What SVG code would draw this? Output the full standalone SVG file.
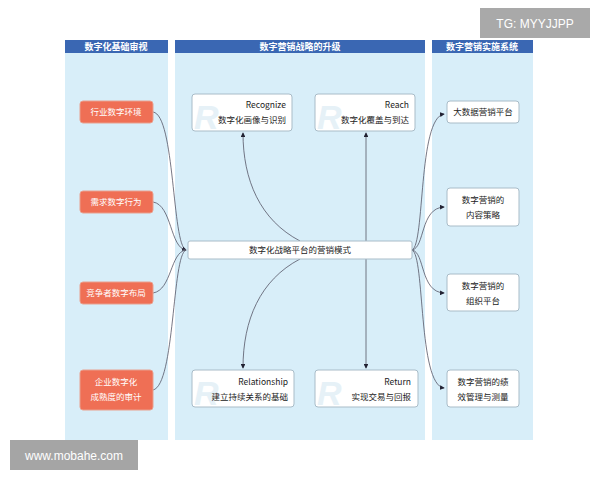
<svg xmlns="http://www.w3.org/2000/svg" width="600" height="480" viewBox="0 0 600 480">
<style>
.col{fill:#d8eef9}
.hdr{fill:#3a67b3}
.ht{font:bold 9px "Noto Sans CJK SC",sans-serif;fill:#fff;text-anchor:middle}
.or{fill:#ef6f55;stroke:#e9a08e;stroke-width:1}
.ot{font:8.5px "Noto Sans CJK SC",sans-serif;fill:#fff;text-anchor:middle}
.wb{fill:#fff;stroke:#a9bcc8;stroke-width:1}
.wt{font:8.5px "Noto Sans CJK SC",sans-serif;fill:#222;text-anchor:end}
.ct{font:8.5px "Noto Sans CJK SC",sans-serif;fill:#222;text-anchor:middle}
.R{font:bold italic 34px "Liberation Sans",sans-serif;fill:#e6f1f7}
.c{fill:none;stroke:#556;stroke-width:0.8}
</style>
<defs><marker id="a" viewBox="0 0 6 6" refX="5" refY="3" markerWidth="6" markerHeight="6" orient="auto"><path d="M0,0L6,3L0,6z" fill="#223"/></marker></defs>
<rect width="600" height="480" fill="#fff"/>
<rect class="col" x="65" y="40" width="103" height="400"/>
<rect class="col" x="175" y="40" width="250" height="400"/>
<rect class="col" x="432" y="40" width="101" height="400"/>
<rect class="hdr" x="65" y="40" width="103" height="13"/>
<rect class="hdr" x="175" y="40" width="250" height="13"/>
<rect class="hdr" x="432" y="40" width="101" height="13"/>
<text class="ht" x="116" y="50">数字化基础审视</text>
<text class="ht" x="300" y="50">数字营销战略的升级</text>
<text class="ht" x="482" y="50">数字营销实施系统</text>
<g id="connectors">
<path class="c" d="M153,112 C175,115 172,245 186,250" marker-end="url(#a)"/>
<path class="c" d="M153,202 C172,205 170,248 186,250"/>
<path class="c" d="M153,293 C172,290 170,252 186,250"/>
<path class="c" d="M153,390 C175,385 172,255 186,250"/>
<path class="c" d="M412,250 C425,245 418,118 444,114" marker-end="url(#a)"/>
<path class="c" d="M412,250 C425,248 420,208 444,207" marker-end="url(#a)"/>
<path class="c" d="M412,250 C425,252 420,292 444,293" marker-end="url(#a)"/>
<path class="c" d="M412,250 C425,255 418,385 444,388" marker-end="url(#a)"/>
<path class="c" d="M300,241 C260,220 243,180 243,133" marker-end="url(#a)"/>
<path class="c" d="M366,241 L366,133" marker-end="url(#a)"/>
<path class="c" d="M300,259 C260,280 243,320 243,368" marker-end="url(#a)"/>
<path class="c" d="M366,259 L366,368" marker-end="url(#a)"/>
</g>
<g id="n1"><rect class="or" x="80" y="101" width="73" height="22" rx="3"/><text class="ot" x="116" y="115">行业数字环境</text></g>
<g id="n2"><rect class="or" x="80" y="191" width="73" height="22" rx="3"/><text class="ot" x="116" y="205">需求数字行为</text></g>
<g id="n3"><rect class="or" x="80" y="282" width="73" height="22" rx="3"/><text class="ot" x="116" y="296">竞争者数字布局</text></g>
<g id="n4"><rect class="or" x="80" y="370" width="73" height="40" rx="3"/><text class="ot" x="116" y="385">企业数字化</text><text class="ot" x="116" y="400">成熟度的审计</text></g>
<g id="rec"><rect class="wb" x="192" y="94" width="100" height="37" rx="3"/><text class="R" x="194" y="129">R</text><text class="wt" x="286" y="108">Recognize</text><text class="wt" x="286" y="123">数字化画像与识别</text></g>
<g id="reach"><rect class="wb" x="315" y="94" width="100" height="37" rx="3"/><text class="R" x="317" y="129">R</text><text class="wt" x="409" y="108">Reach</text><text class="wt" x="409" y="123">数字化覆盖与到达</text></g>
<g id="rel"><rect class="wb" x="192" y="370" width="102" height="37" rx="3"/><text class="R" x="194" y="405">R</text><text class="wt" x="288" y="385">Relationship</text><text class="wt" x="288" y="400">建立持续关系的基础</text></g>
<g id="ret"><rect class="wb" x="315" y="370" width="103" height="37" rx="3"/><text class="R" x="317" y="405">R</text><text class="wt" x="411" y="385">Return</text><text class="wt" x="411" y="400">实现交易与回报</text></g>
<g id="center"><rect class="wb" x="188" y="241" width="224" height="18" rx="2"/><text class="ct" x="300" y="253">数字化战略平台的营销模式</text></g>
<g id="p1"><rect class="wb" x="447" y="101" width="72" height="22" rx="3"/><text class="ct" x="483" y="115">大数据营销平台</text></g>
<g id="p2"><rect class="wb" x="447" y="188" width="72" height="38" rx="3"/><text class="ct" x="483" y="203">数字营销的</text><text class="ct" x="483" y="218">内容策略</text></g>
<g id="p3"><rect class="wb" x="447" y="274" width="72" height="37" rx="3"/><text class="ct" x="483" y="289">数字营销的</text><text class="ct" x="483" y="304">组织平台</text></g>
<g id="p4"><rect class="wb" x="447" y="370" width="72" height="37" rx="3"/><text class="ct" x="483" y="385">数字营销的绩</text><text class="ct" x="483" y="400">效管理与测量</text></g>
<rect x="480" y="8" width="110" height="30" fill="#9a9a9a" opacity="0.85"/>
<text x="535" y="28" font-family="Liberation Sans,sans-serif" font-size="12" fill="#fff" text-anchor="middle">TG: MYYJJPP</text>
<rect x="10" y="440" width="128" height="30" fill="#a5a5a5"/>
<text x="74" y="460" font-family="Liberation Sans,sans-serif" font-size="12" fill="#fff" text-anchor="middle">www.mobahe.com</text>
</svg>
